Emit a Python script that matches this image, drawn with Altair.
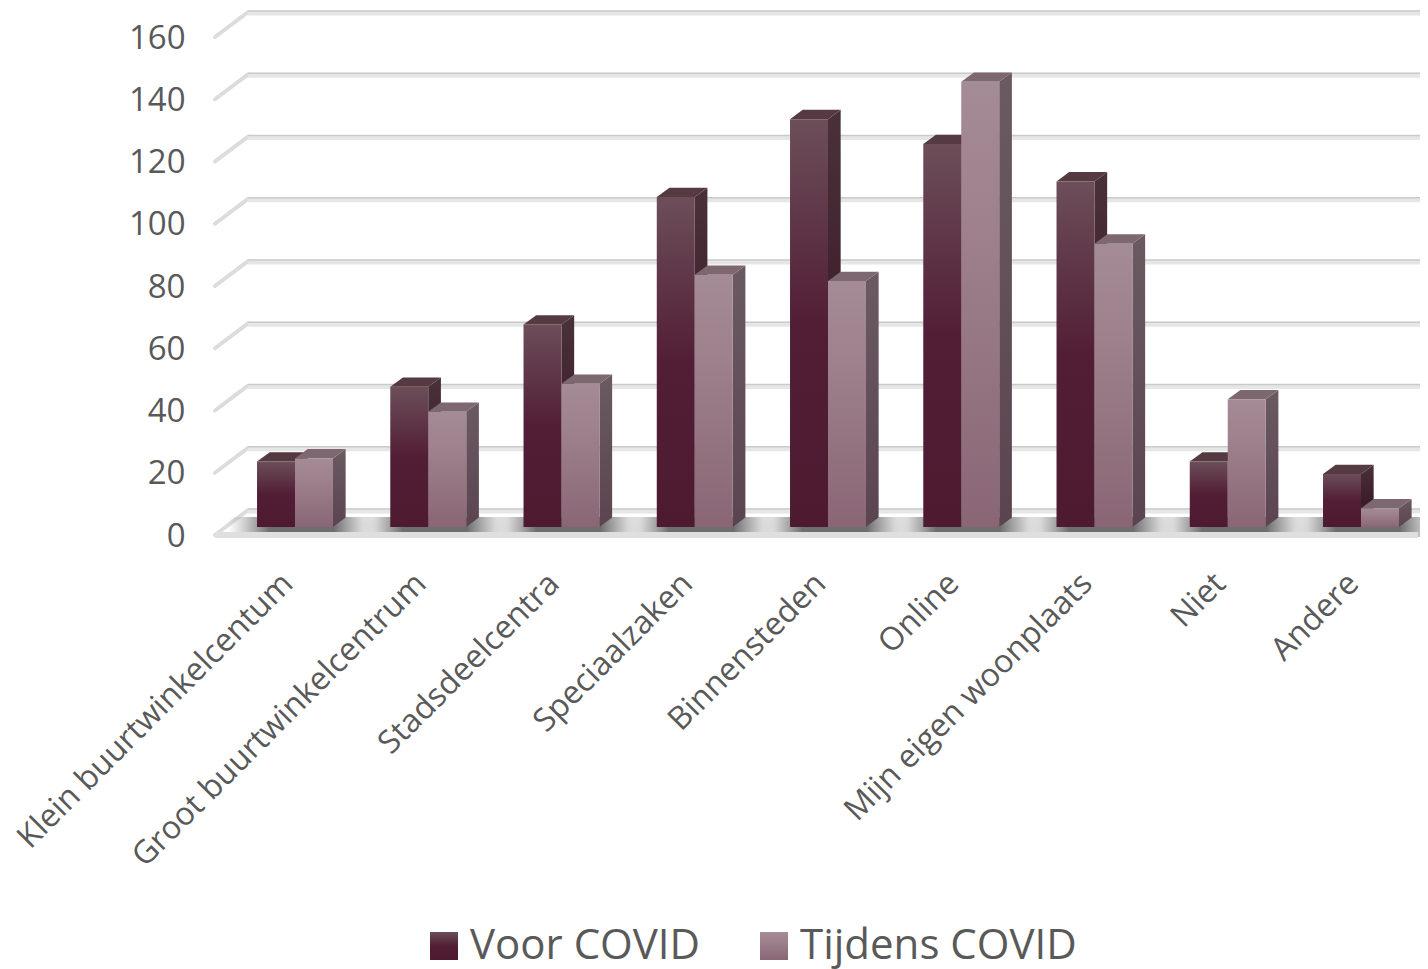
import altair as alt
import pandas as pd

categories = ["Klein buurtwinkelcentum", "Groot buurtwinkelcentrum", "Stadsdeelcentra",
              "Speciaalzaken", "Binnensteden", "Online", "Mijn eigen woonplaats", "Niet", "Andere"]
voor = [21, 45, 65, 106, 131, 123, 111, 21, 17]
tijdens = [22, 37, 46, 81, 79, 143, 91, 41, 6]
y_ticks = [0, 20, 40, 60, 80, 100, 120, 140, 160]
series = ["Voor COVID", "Tijdens COVID"]

# scale geometry (1 x unit = one category, y in chart units)
X_MIN, X_MAX = -0.6004, 8.4428
Y_MAX = 527 / 3.1125
BAR_W = 0.285
DX, DY = 0.095, 3.0          # bar depth
BASE = 2.6                   # bars stand this far into the floor
WALL_DX, WALL_DY = 0.2477, 8.0   # wall depth
FONT = "Open Sans"
TEXT = "#595959"


def grad(stops):
    return alt.Gradient(gradient="linear", x1=0, x2=0, y1=0, y2=1,
                        stops=[alt.GradientStop(offset=o, color=c) for o, c in stops])


def grad_expr(stops):
    s = ",".join("{offset:%s,color:'%s'}" % (o, c) for o, c in stops)
    return {"expr": "{gradient:'linear',x1:0,y1:0,x2:0,y2:1,stops:[%s]}" % s}


FRONT = {
    series[0]: [(0, "#6c4e59"), (0.5, "#521e36"), (1, "#4d1a30")],
    series[1]: [(0, "#a48b95"), (0.3, "#9e828d"), (1, "#8a6675")],
}
SIDE = {
    series[0]: [(0, "#4a3139"), (0.6, "#3c1c2a"), (1, "#371825")],
    series[1]: [(0, "#6b5a62"), (1, "#5a4450")],
}
TOP = {series[0]: "#553a42", series[1]: "#7d6871"}

rows_front, rows_side, rows_top = [], [], []
for s, vals, shift in ((series[0], voor, -BAR_W), (series[1], tijdens, 0.0)):
    for i, (c, v) in enumerate(zip(categories, vals)):
        l, r = i + shift, i + shift + BAR_W
        rows_front.append(dict(series=s, cat=c, l=l, r=r, top=v + BASE, base=BASE))
        rows_side.append(dict(series=s, cat=c, x=r, top=v + BASE, bottom=BASE))
        rows_side.append(dict(series=s, cat=c, x=r + DX, top=v + BASE + DY, bottom=BASE + DY))
        rows_top.append(dict(series=s, cat=c, y=v + BASE, l=l, r=r))
        rows_top.append(dict(series=s, cat=c, y=v + BASE + DY, l=l + DX, r=r + DX))
front = pd.DataFrame(rows_front)
side = pd.DataFrame(rows_side)
top = pd.DataFrame(rows_top)

xs = alt.Scale(domain=[X_MIN, X_MAX], nice=False, zero=False)
ys = alt.Scale(domain=[0, Y_MAX], nice=False, zero=False)


def X(f, **kw):
    return alt.X(f, type="quantitative", scale=xs, axis=None, title=None, **kw)


def Y(f, **kw):
    return alt.Y(f, type="quantitative", scale=ys, axis=None, title=None, **kw)


grid = pd.DataFrame({"v": y_ticks})
grid["y_back"] = grid["v"] + WALL_DY
grid["x_front"] = X_MIN
grid["x_back"] = X_MIN + WALL_DX
grid["x_end"] = X_MAX

diagonals = alt.Chart(grid).mark_rule(color="#dcdcdc", strokeWidth=4, strokeCap="round").encode(
    x=X("x_front"), x2="x_back", y=Y("v"), y2="y_back")
grid_soft = alt.Chart(grid).mark_rule(color="#e6e6e6", strokeWidth=5, yOffset=1).encode(
    x=X("x_back"), x2="x_end", y=Y("y_back"))
grid_edge = alt.Chart(grid).mark_rule(color="#cbcbcb", strokeWidth=1.5, yOffset=-1).encode(
    x=X("x_back"), x2="x_end", y=Y("y_back"))

floor = pd.DataFrame({"v": [0], "l": [X_MIN], "r": [8.43]})
floor_band = alt.Chart(floor).mark_rule(color="#dfdfdf", strokeWidth=6).encode(
    x=X("l"), x2="r", y=Y("v"))

shadow_df = pd.DataFrame({"i": list(range(len(categories)))})
shadow_df["l"] = shadow_df["i"] - 0.50
shadow_df["r"] = shadow_df["i"] + 0.60
shadow_df["y1"] = -0.64
shadow_df["y2"] = 5.8
shadow = alt.Chart(shadow_df).mark_rect(fill={
    "gradient": "radial", "x1": 0.5, "y1": 0.5, "r1": 0.22, "x2": 0.5, "y2": 0.5, "r2": 0.5,
    "stops": [{"offset": 0, "color": "#6e6e6e"}, {"offset": 1, "color": "rgba(140,140,140,0)"}]
}).encode(x=X("l"), x2="r", y=Y("y1"), y2="y2")


def bar_layers(s):
    d_side = side[side.series == s]
    d_top = top[top.series == s]
    d_front = front[front.series == s]
    a = alt.Chart(d_side).mark_area(fill=grad(SIDE[s])).encode(
        x=X("x"), y=Y("top", stack=None), y2="bottom", detail="cat:N")
    b = alt.Chart(d_top).mark_area(orient="horizontal", fill=TOP[s]).encode(
        y=Y("y"), x=X("l", stack=None), x2="r", detail="cat:N")
    c = alt.Chart(d_front).mark_bar().encode(
        x=X("l"), x2="r", y=Y("top"), y2="base",
        color=alt.Color("series:N", scale=alt.Scale(
            domain=series, range=[grad_expr(FRONT[series[0]]), grad_expr(FRONT[series[1]])]),
            legend=alt.Legend(
                title=None, orient="none", legendX=208, legendY=917, direction="horizontal",
                columns=2, columnPadding=52, symbolType="square", symbolSize=784,
                symbolStrokeWidth=0, labelFont=FONT, labelFontSize=42, labelColor=TEXT,
                labelOffset=5, labelLimit=400, symbolOffset=0)))
    return [a, b, c]


axis_anchor = alt.Chart(grid).mark_point(opacity=0).encode(
    x=alt.X("x_front:Q", scale=xs, title=None, axis=alt.Axis(
        values=list(range(len(categories))), grid=False, domain=False, ticks=False,
        labelAngle=315, labelAlign="right", labelBaseline="middle", labelPadding=43, labelOffset=-8,
        labelFont=FONT, labelFontSize=32, labelColor=TEXT, labelOverlap=False, labelBound=False,
        labelFlush=False, labelLimit=600,
        labelExpr="[" + ",".join("'%s'" % c for c in categories) + "][datum.value]")),
    y=alt.Y("v:Q", scale=ys, title=None, axis=alt.Axis(
        values=y_ticks, grid=False, domain=False, ticks=False, labelPadding=30, labelOffset=1,
        labelFont=FONT, labelFontSize=33, labelColor=TEXT, labelOverlap=False, labelBound=False,
        labelFlush=False)),
)

chart = alt.layer(
    axis_anchor, diagonals, grid_soft, grid_edge, shadow, floor_band,
    *bar_layers(series[0]), *bar_layers(series[1])
).resolve_axis(x="independent", y="independent").properties(
    width=1205, height=527,
    padding={"left": 207, "top": 0, "right": 0, "bottom": 434},
    autosize=alt.AutoSizeParams(type="none"),
).configure_view(stroke=None)

chart.save("out.html", embed_options={"renderer": "svg", "actions": False})
